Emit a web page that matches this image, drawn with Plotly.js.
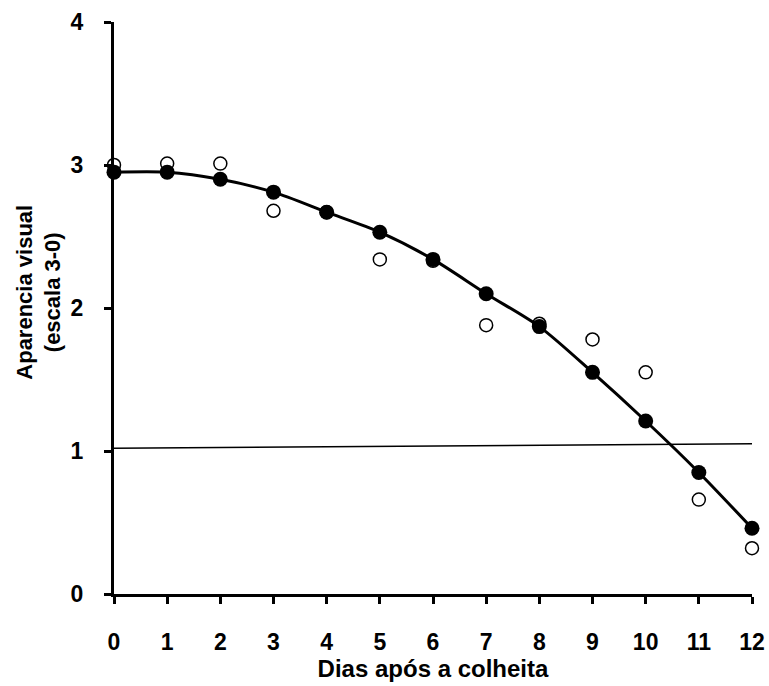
<!DOCTYPE html>
<html>
<head>
<meta charset="utf-8">
<script src="https://cdn.plot.ly/plotly-3.0.1.min.js"></script>
<style>html,body{margin:0;padding:0;background:#fff;}#chart{width:769px;height:686px;}</style>
</head>
<body>
<div id="chart"></div>
<script>
var days = [0,1,2,3,4,5,6,7,8,9,10,11,12];
var observed = [3.0,3.01,3.01,2.68,2.67,2.34,2.33,1.88,1.89,1.78,1.55,0.66,0.32];
var fitted = [2.95,2.95,2.90,2.81,2.67,2.53,2.34,2.10,1.87,1.55,1.21,0.85,0.46];
var limitX = [0,12];
var limitY = [1.02,1.05];
var xTickVals = [0,1,2,3,4,5,6,7,8,9,10,11,12];
var yTickVals = [0,1,2,3,4];

var fontFam = '"Liberation Sans", Arial, sans-serif';

var traces = [
  {x: limitX, y: limitY, mode: 'lines', line: {color: '#000', width: 1.5}, hoverinfo: 'skip', showlegend: false},
  {x: days, y: observed, mode: 'markers', cliponaxis: false,
   marker: {symbol: 'circle', size: 13, color: '#fff', line: {color: '#000', width: 1.5}}, showlegend: false},
  {x: days, y: fitted, mode: 'lines+markers', cliponaxis: false,
   line: {color: '#000', width: 3, shape: 'spline', smoothing: 0.8},
   marker: {symbol: 'circle', size: 15, color: '#000'}, showlegend: false}
];

var layout = {
  width: 769, height: 686,
  margin: {l: 114, r: 17, t: 22, b: 92},
  paper_bgcolor: '#fff', plot_bgcolor: '#fff',
  font: {family: fontFam, color: '#000', size: 18},
  xaxis: {
    range: [0, 12], tickvals: xTickVals, ticktext: xTickVals.map(function(v){return '<b>' + v + '</b>';}),
    showgrid: false, zeroline: false, showline: true, linecolor: '#000', linewidth: 3,
    ticks: 'outside', ticklen: 7, tickwidth: 3, tickcolor: '#000',
    ticklabelstandoff: 18,
    tickfont: {family: fontFam, size: 23, color: '#000'},
    title: {text: '<b>Dias após a colheita</b>', font: {family: fontFam, size: 24, color: '#000'}, standoff: 2}
  },
  yaxis: {
    range: [0, 4], tickvals: yTickVals, ticktext: yTickVals.map(function(v){return '<b>' + v + '</b>';}),
    showgrid: false, zeroline: false, showline: true, linecolor: '#000', linewidth: 3,
    ticks: 'outside', ticklen: 7, tickwidth: 3, tickcolor: '#000',
    ticklabelstandoff: 16,
    tickfont: {family: fontFam, size: 23, color: '#000'}
  },
  annotations: [
    {xref: 'paper', yref: 'paper', x: -0.118, y: 0.528, xanchor: 'center', yanchor: 'middle',
     textangle: -90, showarrow: false,
     text: '<b>Aparencia visual</b><br><b>(escala 3-0)</b>',
     font: {family: fontFam, size: 22, color: '#000'}}
  ]
};

Plotly.newPlot('chart', traces, layout, {displayModeBar: false, staticPlot: true});
</script>
</body>
</html>
